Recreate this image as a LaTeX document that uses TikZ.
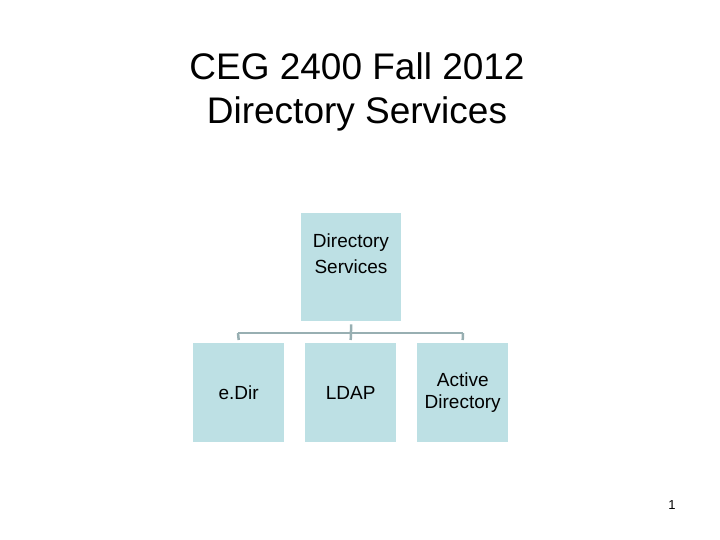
\documentclass[tikz,border=0pt]{standalone}
\usepackage{fontspec}
\setmainfont{Liberation Sans}
\definecolor{boxfill}{HTML}{BDE0E4}
\definecolor{linec}{HTML}{98AFB2}
\begin{document}
\begin{tikzpicture}[x=1pt,y=-1pt,
  bx/.style={fill=boxfill,draw=none,minimum width=91pt,minimum height=99pt,align=center,font=\fontsize{19}{22}\selectfont,inner sep=0pt},
  ln/.style={draw=linec,line width=2.5pt}]
\useasboundingbox (0,0) rectangle (720,540);
\node[align=center,font=\fontsize{37}{44}\selectfont] (title) at (357,92) {CEG 2400 Fall 2012\\Directory Services};
\node[bx,minimum width=100pt,minimum height=108pt,anchor=north west,text depth=0pt] (top) at (301,213) {};
\node[align=center,font=\fontsize{19}{26}\selectfont] (toptext) at (351,254) {Directory\\Services};
\node[bx,anchor=north west] (a) at (193,343) {e.Dir};
\node[bx,anchor=north west] (b) at (305,343) {LDAP};
\node[bx,anchor=north west] (c) at (417,343) {Active\\Directory};
\coordinate (j) at (351,333);
\coordinate (ja) at (238,333);
\coordinate (jc) at (463,333);
\draw[ln] ([yshift=-3pt]top.south) -- ([yshift=3pt]b.north);
\draw[ln] (ja) -- (jc);
\draw[ln] (ja) -- ([yshift=3pt]a.north);
\draw[ln] (jc) -- ([yshift=3pt]c.north);
\node[font=\fontsize{13}{15}\selectfont] (num) at (672,505) {1};
\end{tikzpicture}
\end{document}
